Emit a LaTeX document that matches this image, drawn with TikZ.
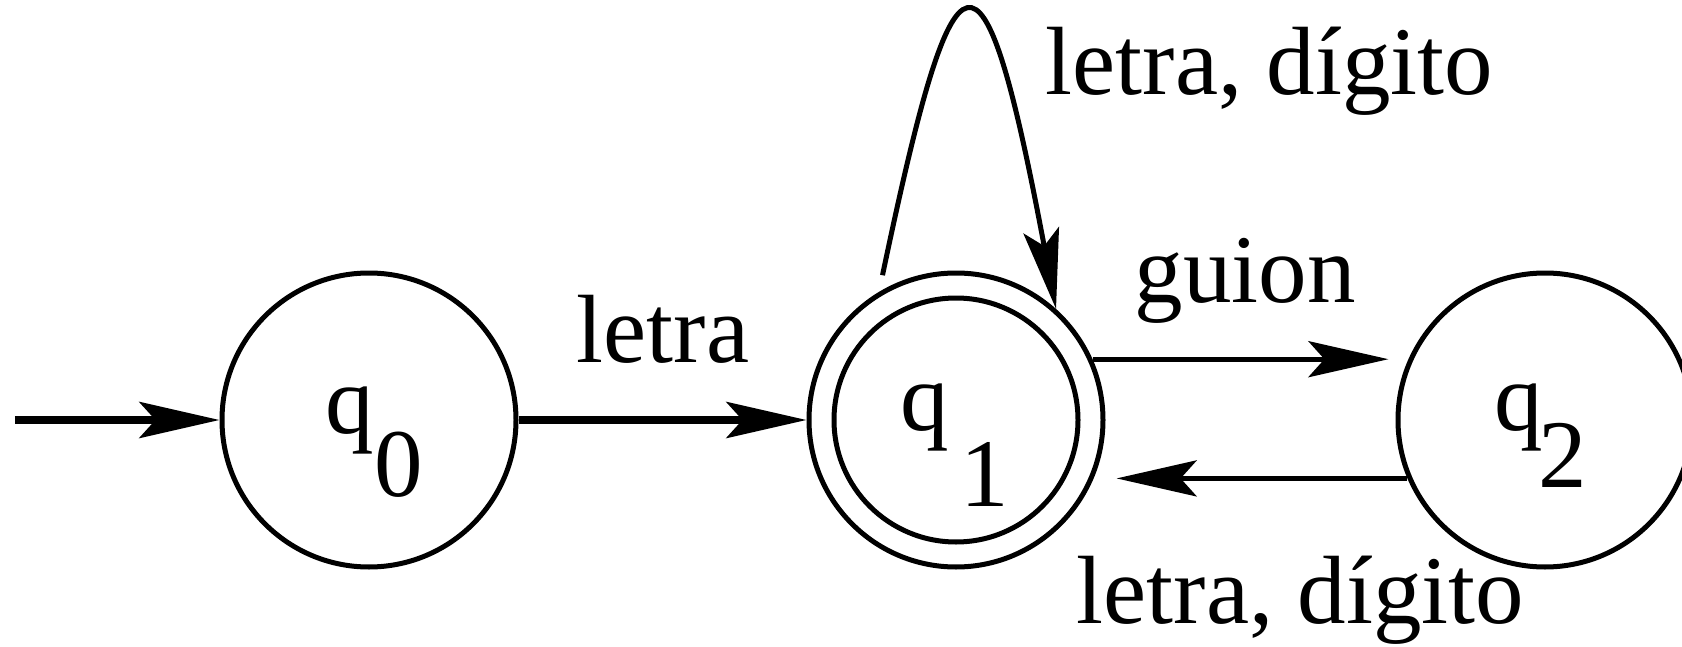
\documentclass[tikz,border=0pt]{standalone}
\usepackage{fontspec}
\setmainfont{Liberation Serif}
\usetikzlibrary{arrows.meta,calc}

\begin{document}
\begin{tikzpicture}[
            font=\fontsize{27.6}{33}\selectfont,
            state/.style={draw, circle, line width=0.05cm, minimum size=2.94cm, inner sep=0pt},
            lbl/.style={anchor=base west, inner sep=0pt},
            edge/.style={line width=0.05cm, -{Stealth[length=8mm, width=3.6mm, inset=1.6mm]}},
            heavy/.style={edge, line width=0.078cm}
                           ]
            \useasboundingbox (0,0) rectangle (16.82,6.46);

            % 1. Draw the states
            \node[state] (q0) at (3.69,2.26) {};
            \node[state] (q1) at (9.56,2.26) {};
            \node[state, minimum size=2.44cm] (q1in) at (q1) {};
            \node[state] (q2) at (15.45,2.26) {};

            % 2. State names, the index is full size and lowered
            \node[lbl] (q0name) at (3.25,2.13) {q\raisebox{-0.65em}{0}};
            \node[lbl] (q1name) at (9.00,2.16) {q\hspace{0.12em}\raisebox{-0.79em}{1}};
            \node[lbl] (q2name) at (14.94,2.16) {q\hspace{-0.05em}\raisebox{-0.59em}{2}};

            % 3. Initial arrow and transitions
            \coordinate (start) at (0.15,2.26);
            \draw[heavy] (start) -- (q0);
            \draw[heavy] (q0) -- (q1);
            \draw[edge, shorten >=0.2cm] (q1.24) -- (q2.156);
            \draw[edge, shorten >=0.23cm] (q2.203) -- (q1.337);
            \draw[edge, shorten <=0.17cm] (q1.121) .. controls ($(q1)+(-0.01,4.90)$) and ($(q1)+(0.26,5.04)$) .. (q1.48);

            % 4. Transition labels
            \node[lbl] (lletra) at (5.76,2.84) {letra};
            \node[lbl] (lloop) at (10.45,5.51) {letra, dígito};
            \node[lbl] (lguion) at (11.34,3.44) {guion};
            \node[lbl] (lback) at (10.76,0.23) {letra, dígito};

        \end{tikzpicture}
\end{document}
